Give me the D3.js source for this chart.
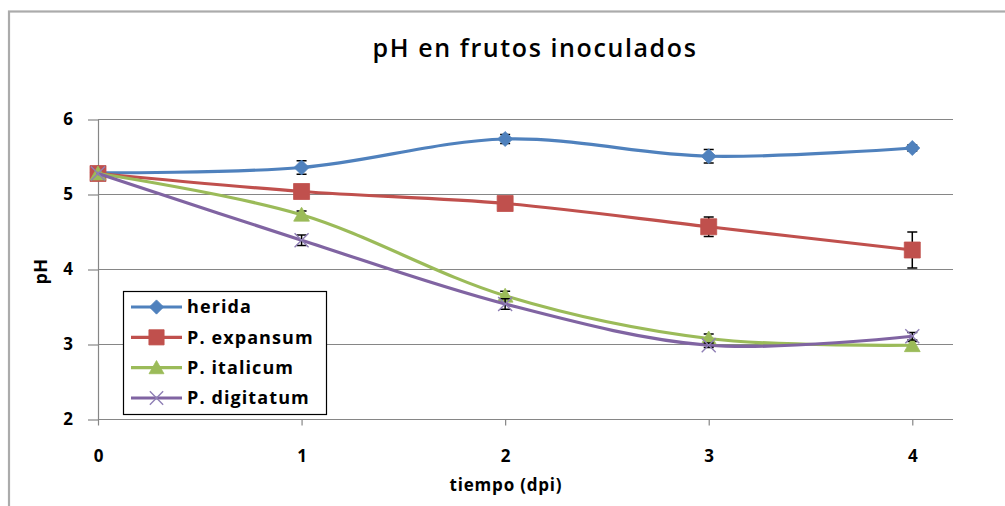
<!DOCTYPE html>
<html>
<head>
<meta charset="utf-8">
<script src="https://cdn.jsdelivr.net/npm/d3@7/dist/d3.min.js"></script>
<style>
  html, body { margin: 0; padding: 0; background: #fff; }
  svg { display: block; }
  text { font-family: "Open Sans", "Liberation Sans", sans-serif; fill: #000; }
</style>
</head>
<body>
<svg id="chart" width="1005" height="506"></svg>
<script>
// Sampling days (dpi) and tick values
const days = [0, 1, 2, 3, 4];
const xTicks = [0, 1, 2, 3, 4];
const yTicks = [2, 3, 4, 5, 6];

// Mean pH per treatment
const herida     = [5.29, 5.36, 5.74, 5.51, 5.62];
const expansum   = [5.28, 5.04, 4.88, 4.57, 4.26];
const italicum   = [5.28, 4.73, 3.65, 3.08, 2.99];
const digitatum  = [5.28, 4.39, 3.54, 2.99, 3.11];

// Standard errors
const heridaErr    = [0.00, 0.09, 0.06, 0.09, 0.04];
const expansumErr  = [0.00, 0.09, 0.04, 0.13, 0.24];
const italicumErr  = [0.00, 0.05, 0.06, 0.06, 0.05];
const digitatumErr = [0.00, 0.07, 0.07, 0.03, 0.05];

const seriesNames = ["herida", "P. expansum", "P. italicum", "P. digitatum"];

const series = [
  { name: seriesNames[0], values: herida,    err: heridaErr,    color: "#4F81BD", marker: "diamond" },
  { name: seriesNames[1], values: expansum,  err: expansumErr,  color: "#C0504D", marker: "square" },
  { name: seriesNames[2], values: italicum,  err: italicumErr,  color: "#9BBB59", marker: "triangle" },
  { name: seriesNames[3], values: digitatum, err: digitatumErr, color: "#8064A2", marker: "cross" }
];

const svg = d3.select("#chart");

// outer chart frame
svg.append("rect")
  .attr("x", 9).attr("y", 11.5)
  .attr("width", 1100).attr("height", 600)
  .attr("fill", "#fff")
  .attr("stroke", "#ababab").attr("stroke-width", 2.2);

const plot = { left: 98, right: 953, top: 119.5, bottom: 419.5 };

const x = d3.scaleLinear().domain([0, 4.2]).range([plot.left, plot.right]);
const y = d3.scaleLinear().domain([2, 6]).range([plot.bottom, plot.top]);

const gridColor = "#868686";

// horizontal gridlines
svg.append("g").selectAll("line")
  .data(yTicks.filter(d => d > 2))
  .join("line")
  .attr("x1", plot.left).attr("x2", plot.right)
  .attr("y1", d => y(d)).attr("y2", d => y(d))
  .attr("stroke", gridColor).attr("stroke-width", 1.2);

function styleTickText(sel) {
  sel.style("font-family", "'Open Sans', sans-serif")
    .style("font-size", "17px").style("font-weight", "700").attr("fill", "#000");
}

// y axis
const yAxis = svg.append("g")
  .attr("transform", `translate(${plot.left},0)`)
  .call(d3.axisLeft(y).tickValues(yTicks).tickSizeInner(10).tickSizeOuter(0).tickPadding(15).tickFormat(d3.format("d")));
yAxis.select(".domain").attr("stroke", gridColor).attr("stroke-width", 1.2);
yAxis.selectAll(".tick line").attr("stroke", gridColor).attr("stroke-width", 1.2);
styleTickText(yAxis.selectAll(".tick text"));

// x axis
const xAxis = svg.append("g")
  .attr("transform", `translate(0,${plot.bottom})`)
  .call(d3.axisBottom(x).tickValues(xTicks).tickSizeInner(6).tickSizeOuter(0).tickPadding(24).tickFormat(d3.format("d")));
xAxis.select(".domain").attr("d", `M${plot.left},0H${plot.right}`)
  .attr("stroke", gridColor).attr("stroke-width", 1.2);
xAxis.selectAll(".tick line").attr("stroke", gridColor).attr("stroke-width", 1.2);
styleTickText(xAxis.selectAll(".tick text"));

// smoothed series lines
const line = d3.line()
  .x((d, i) => x(days[i]))
  .y(d => y(d))
  .curve(d3.curveCardinal.tension(0));

function markerPath(type, s) {
  switch (type) {
    case "diamond":
      return `M0,${-s}L${s},0L0,${s}L${-s},0Z`;
    case "square":
      return `M${-s},${-s}H${s}V${s}H${-s}Z`;
    case "triangle":
      return `M0,${-s}L${s * 1.05},${s * 0.85}H${-s * 1.05}Z`;
    case "cross":
      return `M${-s},${-s}L${s},${s}M${s},${-s}L${-s},${s}`;
  }
}
const markerSize = { diamond: 7.5, square: 8, triangle: 7.5, cross: 7 };

function drawMarker(g, type, color, cx, cy, scale) {
  const s = markerSize[type] * (scale || 1);
  const p = g.append("path")
    .attr("d", markerPath(type, s))
    .attr("transform", `translate(${cx},${cy})`);
  if (type === "cross") {
    p.attr("fill", "none").attr("stroke", "#8f7fb5").attr("stroke-width", 1.4);
  } else {
    p.attr("fill", color).attr("stroke", color).attr("stroke-width", 0.8);
  }
}

series.forEach(s => {
  const g = svg.append("g");
  g.append("path")
    .datum(s.values)
    .attr("d", line)
    .attr("fill", "none")
    .attr("stroke", s.color)
    .attr("stroke-width", 3.2)
    .attr("stroke-linecap", "round");

  // error bars
  const eb = g.append("g").attr("stroke", "#000").attr("stroke-width", 1.5);
  s.values.forEach((v, i) => {
    const e = s.err[i];
    if (!e) return;
    const cx = x(days[i]);
    eb.append("line").attr("x1", cx).attr("x2", cx).attr("y1", y(v - e)).attr("y2", y(v + e));
    eb.append("line").attr("x1", cx - 5).attr("x2", cx + 5).attr("y1", y(v - e)).attr("y2", y(v - e));
    eb.append("line").attr("x1", cx - 5).attr("x2", cx + 5).attr("y1", y(v + e)).attr("y2", y(v + e));
  });

  s.values.forEach((v, i) => drawMarker(g, s.marker, s.color, x(days[i]), y(v)));
});

// title
svg.append("text")
  .attr("x", 535).attr("y", 57)
  .attr("text-anchor", "middle")
  .style("font-size", "25px").style("font-weight", "600")
  .style("letter-spacing", "1.6px")
  .text("pH en frutos inoculados");

// axis titles
svg.append("text")
  .attr("transform", `translate(47,${(plot.top + plot.bottom) / 2 + 2}) rotate(-90)`)
  .attr("text-anchor", "middle")
  .style("font-size", "18px").style("font-weight", "700")
  .style("letter-spacing", "0.5px")
  .text("pH");

svg.append("text")
  .attr("x", 506).attr("y", 491)
  .attr("text-anchor", "middle")
  .style("font-size", "17px").style("font-weight", "700")
  .style("letter-spacing", "0.8px")
  .text("tiempo (dpi)");

// legend
const legend = svg.append("g");
legend.append("rect")
  .attr("x", 123.5).attr("y", 291.5).attr("width", 203).attr("height", 123)
  .attr("fill", "#fff").attr("stroke", "#000").attr("stroke-width", 1.2);

const rowY = d3.scalePoint().domain(seriesNames).range([307, 398]);
series.forEach(s => {
  const cy = rowY(s.name);
  legend.append("line")
    .attr("x1", 131).attr("x2", 182).attr("y1", cy).attr("y2", cy)
    .attr("stroke", s.color).attr("stroke-width", 3.2);
  drawMarker(legend, s.marker, s.color, 156.5, cy, 0.95);
  legend.append("text")
    .attr("x", 187).attr("y", cy).attr("dy", "0.35em")
    .style("font-size", "18px").style("font-weight", "700")
    .style("letter-spacing", "1.1px")
    .text(s.name);
});
</script>
</body>
</html>
